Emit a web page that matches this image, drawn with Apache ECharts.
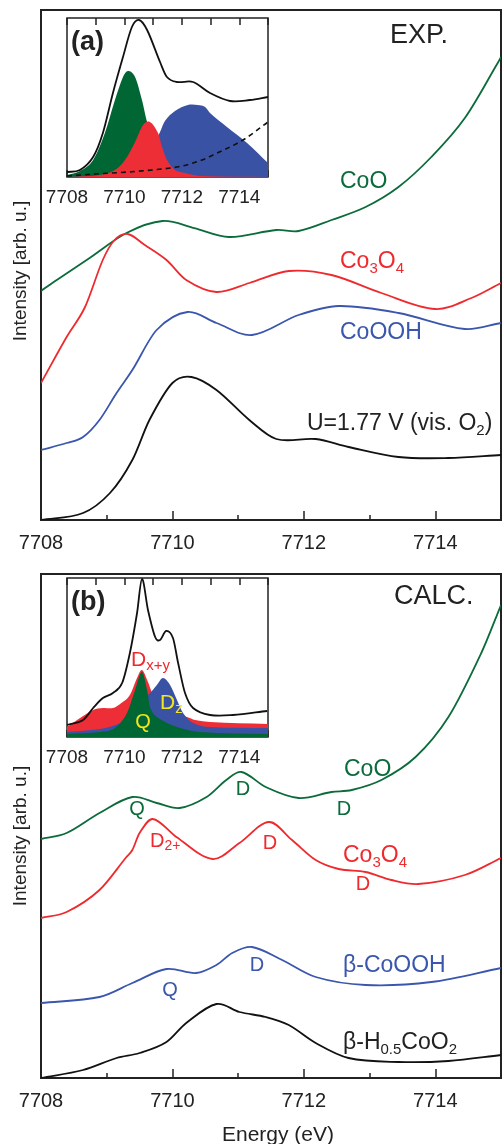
<!DOCTYPE html>
<html>
<head>
<meta charset="utf-8">
<script src="https://cdn.jsdelivr.net/npm/echarts@6/dist/echarts.min.js"></script>
<style>
html,body{margin:0;padding:0;background:#fff;}
#chart{width:504px;height:1144px;}
</style>
</head>
<body>
<div id="chart"></div>
<script>
// ---------------- DATA ----------------
// x tick labels (eV)
const tickLabelsMain = [7708, 7710, 7712, 7714];
const tickLabelsInset = [7708, 7710, 7712, 7714];

// (top) experiment, intensity in arbitrary units
const expCoO_E = [7708.00,7708.24,7708.74,7709.30,7709.85,7710.33,7710.86,7711.58,7711.92,7712.42,7712.94,7713.44,7713.94,7714.45,7714.95,7715.00];
const expCoO_I = [229,240,262,287,299,292,283,290,289,300,313,333,363,402,457,463];

const expCo3O4_E = [7708.00,7708.39,7708.67,7708.94,7709.12,7709.32,7709.58,7709.91,7710.21,7710.67,7711.17,7711.77,7712.42,7713.18,7714.00,7714.55,7715.00];
const expCo3O4_I = [137,183,213,260,280,286,275,260,240,228,237,249,245,227,211,222,237];

const expCoOOH_E = [7708.00,7708.39,7708.64,7708.89,7709.15,7709.39,7709.76,7710.23,7710.67,7711.21,7711.92,7712.53,7713.44,7714.45,7715.00];
const expCoOOH_I = [70,77,83,100,127,150,190,208,197,185,205,214,207,191,197];

const expU177_E = [7708.00,7708.64,7709.05,7709.39,7709.65,7710.00,7710.29,7710.67,7711.17,7711.58,7712.18,7712.68,7713.44,7714.20,7715.00];
const expU177_I = [0,7,27,60,100,137,143,130,100,81,81,73,63,62,65];

// (bottom) calculation
const calcCoO_E = [7708.00,7708.39,7708.89,7709.39,7709.76,7710.11,7710.52,7710.82,7711.05,7711.42,7711.92,7712.42,7712.73,7713.18,7713.70,7714.20,7714.70,7715.00];
const calcCoO_I = [239,245,265,281,275,270,281,298,306,291,280,286,288,298,321,361,425,473];

const calcCo3O4_E = [7708.00,7708.39,7708.89,7709.30,7709.39,7709.50,7709.70,7710.06,7710.61,7711.02,7711.47,7711.82,7712.18,7712.53,7712.94,7713.33,7713.74,7714.45,7715.00];
const calcCo3O4_I = [160,166,188,221,228,245,259,241,219,235,256,238,218,209,206,198,194,203,220];

const calcCoOOH_E = [7708.00,7708.89,7709.39,7709.91,7710.36,7710.67,7710.91,7711.21,7711.67,7712.18,7712.94,7713.94,7715.00];
const calcCoOOH_I = [75,81,95,109,105,113,125,131,118,101,93,96,110];

const calcH05_E = [7708.00,7708.64,7709.15,7709.50,7709.91,7710.21,7710.67,7711.02,7711.42,7711.77,7712.18,7712.68,7713.44,7714.20,7715.00];
const calcH05_I = [0,8,20,25,36,55,74,66,61,53,35,20,16,17,23];

// inset (a): experimental fit
const insA_total_E = [7708.00,7708.45,7708.91,7709.25,7709.60,7709.95,7710.26,7710.51,7710.79,7711.24,7711.48,7711.83,7712.39,7712.98,7713.68,7714.37,7715.00];
const insA_total_I = [5,7,20,44,84,120,150,157,147,115,100,95,95,84,76,77,80];
const insA_green_E = [7708.00,7708.45,7708.91,7709.32,7709.67,7709.95,7710.12,7710.37,7710.61,7710.79,7711.07,7711.41,7711.94,7712.63,7715.00];
const insA_green_I = [2,6,17,44,77,100,106,100,77,55,32,12,3,0,0];
const insA_red_E = [7708.00,7709.15,7709.67,7710.02,7710.37,7710.65,7710.89,7711.17,7711.31,7711.48,7711.76,7712.11,7712.63,7715.00];
const insA_red_I = [0,2,7,17,35,52,55,44,30,17,7,4,1,0];
const insA_blue_E = [7708.00,7709.85,7710.19,7710.54,7710.89,7711.24,7711.41,7711.76,7712.21,7712.56,7712.81,7712.98,7713.57,7714.27,7715.00];
const insA_blue_I = [0,2,5,10,25,45,56,66,72,72,70,64,50,34,14];
const insA_base_E = [7708.00,7708.98,7710.12,7711.31,7712.01,7712.70,7713.16,7714.13,7715.00];
const insA_base_I = [1,3,5,8,11,17,23,37,55];

// inset (b): calculated decomposition
const insB_total_E = [7708.00,7708.56,7708.91,7709.25,7709.60,7709.92,7710.19,7710.44,7710.61,7710.82,7711.07,7711.24,7711.45,7711.69,7711.87,7712.11,7712.39,7712.98,7713.78,7714.97];
const insB_total_I = [12,17,29,39,44,54,84,124,158,127,100,97,106,99,74,44,29,22,22,26];
const insB_red_E = [7708.00,7708.91,7709.25,7709.60,7709.85,7710.19,7710.44,7710.61,7710.82,7711.00,7711.24,7711.59,7711.94,7712.18,7712.46,7712.98,7715.00];
const insB_red_I = [10,27,29,29,33,42,59,67,55,42,38,30,22,20,17,15,13];
const insB_blue_E = [7708.00,7709.15,7709.85,7710.30,7710.65,7710.89,7711.13,7711.34,7711.59,7711.83,7712.04,7712.39,7712.98,7715.00];
const insB_blue_I = [5,8,14,25,38,44,52,59,52,37,24,14,10,9];
const insB_green_E = [7708.00,7709.15,7709.67,7710.09,7710.37,7710.61,7710.79,7710.89,7711.13,7711.83,7712.63,7715.00];
const insB_green_I = [3,5,9,24,47,65,47,30,20,10,5,3];

// ---------------- CHART ----------------
const FONT = "'Liberation Sans', Arial, Helvetica, sans-serif";
const GREEN = '#0b6b3a', RED = '#ee2a2e', BLUE = '#3a56ad', BLACK = '#111111', YELLOW = '#f3e61c';
const FILL_GREEN = '#006633', FILL_RED = '#ee2e36', FILL_BLUE = '#3a52a3';

function pairs(E, I) { return E.map((e, i) => [e, I[i]]); }

// smooth cubic Hermite path through the data points, in pixel space given by the axes
function smoothPath(pts) {
  const n = pts.length;
  const m = pts.map((p, i) => {
    const a = pts[Math.max(0, i - 1)], b = pts[Math.min(n - 1, i + 1)];
    const dx = b[0] - a[0];
    return dx === 0 ? 0 : (b[1] - a[1]) / dx;
  });
  let d = 'M' + pts[0][0].toFixed(2) + ',' + pts[0][1].toFixed(2);
  for (let i = 0; i < n - 1; i++) {
    const p1 = pts[i], p2 = pts[i + 1];
    const h = (p2[0] - p1[0]) / 3;
    d += ' C' + (p1[0] + h).toFixed(2) + ',' + (p1[1] + m[i] * h).toFixed(2) + ' ' +
         (p2[0] - h).toFixed(2) + ',' + (p2[1] - m[i + 1] * h).toFixed(2) + ' ' +
         p2[0].toFixed(2) + ',' + p2[1].toFixed(2);
  }
  return d;
}

function curve(E, I, xi, yi, color, width, opts) {
  opts = opts || {};
  return {
    type: 'custom', xAxisIndex: xi, yAxisIndex: yi, data: pairs(E, I),
    encode: { x: 0, y: 1 }, silent: true, animation: false, clip: true, z: opts.z || 3,
    renderItem: function (params, api) {
      if (params.dataIndex !== 0) return null;
      const pts = E.map((e, i) => api.coord([e, I[i]]));
      let d = smoothPath(pts);
      if (opts.fill) {
        const b0 = api.coord([E[0], 0]), b1 = api.coord([E[E.length - 1], 0]);
        d += ' L' + b1[0] + ',' + b1[1] + ' L' + b0[0] + ',' + b0[1] + ' Z';
        return { type: 'path', shape: { pathData: d }, style: { fill: opts.fill, stroke: null, lineWidth: 0 } };
      }
      return {
        type: 'path', shape: { pathData: d },
        style: { fill: null, stroke: color, lineWidth: width, lineDash: opts.dashed ? [5, 4] : null, lineJoin: 'round' }
      };
    }
  };
}

function labelAxis(gi, interval, len, labelSize, margin) {
  return {
    type: 'value', gridIndex: gi, min: 7708, max: 7715, interval: interval,
    axisLine: { show: false },
    axisTick: { show: true, inside: true, length: len, lineStyle: { color: '#222', width: 1.5 } },
    axisLabel: {
      show: labelSize > 0, margin: margin, fontSize: labelSize, fontFamily: FONT, color: '#222',
      formatter: v => (tickLabelsMain.indexOf(v) >= 0 ? String(v) : '')
    },
    splitLine: { show: false }
  };
}
function plainAxis(gi, interval, len, pos) {
  return {
    type: 'value', gridIndex: gi, min: 7708, max: 7715, interval: interval, position: pos || 'bottom',
    axisLine: { show: false },
    axisTick: { show: true, inside: true, length: len, lineStyle: { color: '#222', width: 1.5 } },
    axisLabel: { show: false }, splitLine: { show: false }
  };
}
function yAx(gi, max) {
  return { type: 'value', gridIndex: gi, min: 0, max: max, show: false };
}

const xAxes = [
  labelAxis(0, 2, 9, 20, 13),   // 0
  plainAxis(0, 1, 5),           // 1
  labelAxis(1, 2, 9, 20, 13),   // 2
  plainAxis(1, 1, 5),           // 3
  labelAxis(2, 1, 7, 19, 11),   // 4 inset a bottom
  plainAxis(2, 1, 7, 'top'),    // 5
  labelAxis(3, 1, 7, 19, 11),   // 6 inset b bottom
  plainAxis(3, 1, 7, 'top')     // 7
];
const yAxes = [yAx(0, 510), yAx(1, 504), yAx(2, 159), yAx(3, 159)];

const grids = [
  { left: 41, top: 10, width: 462, height: 510, show: true, borderColor: '#222', borderWidth: 2, backgroundColor: 'transparent' },
  { left: 41, top: 574, width: 462, height: 504, show: true, borderColor: '#222', borderWidth: 2, backgroundColor: 'transparent' },
  { left: 67, top: 18, width: 201, height: 159, show: true, borderColor: '#222', borderWidth: 1.5, backgroundColor: '#fff' },
  { left: 67, top: 578, width: 201, height: 159, show: true, borderColor: '#222', borderWidth: 1.5, backgroundColor: '#fff' }
];

const series = [
  curve(expCoO_E, expCoO_I, 0, 0, GREEN, 1.8),
  curve(expCo3O4_E, expCo3O4_I, 0, 0, RED, 1.8),
  curve(expCoOOH_E, expCoOOH_I, 0, 0, BLUE, 1.8),
  curve(expU177_E, expU177_I, 0, 0, BLACK, 1.8),

  curve(calcCoO_E, calcCoO_I, 2, 1, GREEN, 1.8),
  curve(calcCo3O4_E, calcCo3O4_I, 2, 1, RED, 1.8),
  curve(calcCoOOH_E, calcCoOOH_I, 2, 1, BLUE, 1.8),
  curve(calcH05_E, calcH05_I, 2, 1, BLACK, 1.8),

  curve(insA_green_E, insA_green_I, 4, 2, FILL_GREEN, 0, { fill: FILL_GREEN, z: 4 }),
  curve(insA_blue_E, insA_blue_I, 4, 2, FILL_BLUE, 0, { fill: FILL_BLUE, z: 5 }),
  curve(insA_red_E, insA_red_I, 4, 2, FILL_RED, 0, { fill: FILL_RED, z: 6 }),
  curve(insA_base_E, insA_base_I, 4, 2, BLACK, 1.6, { dashed: true, z: 7 }),
  curve(insA_total_E, insA_total_I, 4, 2, BLACK, 1.8, { z: 8 }),

  curve(insB_red_E, insB_red_I, 6, 3, FILL_RED, 0, { fill: FILL_RED, z: 4 }),
  curve(insB_blue_E, insB_blue_I, 6, 3, FILL_BLUE, 0, { fill: FILL_BLUE, z: 5 }),
  curve(insB_green_E, insB_green_I, 6, 3, FILL_GREEN, 0, { fill: FILL_GREEN, z: 6 }),
  curve(insB_total_E, insB_total_I, 6, 3, BLACK, 1.8, { z: 8 })
];

function txt(x, y, text, size, color, o) {
  o = o || {};
  const sub = o.sub || Math.round(size * 0.68);
  const pad = o.pad != null ? o.pad : Math.round(size * 0.58);
  return {
    type: 'text', x: x, y: y, z: 100, rotation: o.rotation || 0,
    style: {
      text: text, fill: color, fontSize: size, fontFamily: FONT, fontWeight: o.bold ? 'bold' : 'normal',
      align: o.align || 'left', verticalAlign: 'middle',
      textAlign: o.align || 'left', textVerticalAlign: 'middle',
      rich: { s: { fontSize: sub, fontFamily: FONT, fill: color, padding: [pad, 0, 0, 0] } }
    }
  };
}

const graphics = [
  txt(21, 271, 'Intensity [arb. u.]', 19, '#222', { align: 'center', rotation: Math.PI / 2 }),
  txt(21, 836, 'Intensity [arb. u.]', 19, '#222', { align: 'center', rotation: Math.PI / 2 }),
  txt(278, 1135, 'Energy (eV)', 21, '#222', { align: 'center' }),
  txt(390, 36, 'EXP.', 27, '#222'),
  txt(394, 597, 'CALC.', 27, '#222'),
  txt(71, 43, '(a)', 27, '#222', { bold: true }),
  txt(71, 603, '(b)', 27, '#222', { bold: true }),

  txt(340, 182, 'CoO', 23, GREEN),
  txt(340, 262, 'Co{s|3}O{s|4}', 23, RED, { sub: 15, pad: 13 }),
  txt(340, 333, 'CoOOH', 23, BLUE),
  txt(307, 424, 'U=1.77 V (vis. O{s|2})', 23, '#222', { sub: 15, pad: 13 }),

  txt(344, 770, 'CoO', 23, GREEN),
  txt(343, 856, 'Co{s|3}O{s|4}', 23, RED, { sub: 15, pad: 13 }),
  txt(343, 966, 'β-CoOOH', 23, BLUE),
  txt(343, 1043, 'β-H{s|0.5}CoO{s|2}', 23, '#222', { sub: 15, pad: 13 }),

  txt(137, 809, 'Q', 20, GREEN, { align: 'center' }),
  txt(243, 789, 'D', 20, GREEN, { align: 'center' }),
  txt(344, 809, 'D', 20, GREEN, { align: 'center' }),
  txt(150, 841, 'D{s|2+}', 20, RED, { sub: 14, pad: 11 }),
  txt(270, 843, 'D', 20, RED, { align: 'center' }),
  txt(363, 884, 'D', 20, RED, { align: 'center' }),
  txt(257, 965, 'D', 20, BLUE, { align: 'center' }),
  txt(170, 990, 'Q', 20, BLUE, { align: 'center' }),

  txt(131, 660, 'D{s|x+y}', 21, RED, { sub: 15, pad: 12 }),
  txt(160, 703, 'D{s|z}', 21, YELLOW, { sub: 15, pad: 12 }),
  txt(143, 722, 'Q', 20, YELLOW, { align: 'center' })
];

const chart = echarts.init(document.getElementById('chart'), null, { renderer: 'canvas' });
chart.setOption({
  animation: false,
  backgroundColor: '#fff',
  grid: grids,
  xAxis: xAxes,
  yAxis: yAxes,
  series: series,
  graphic: { elements: graphics }
});
</script>
</body>
</html>
